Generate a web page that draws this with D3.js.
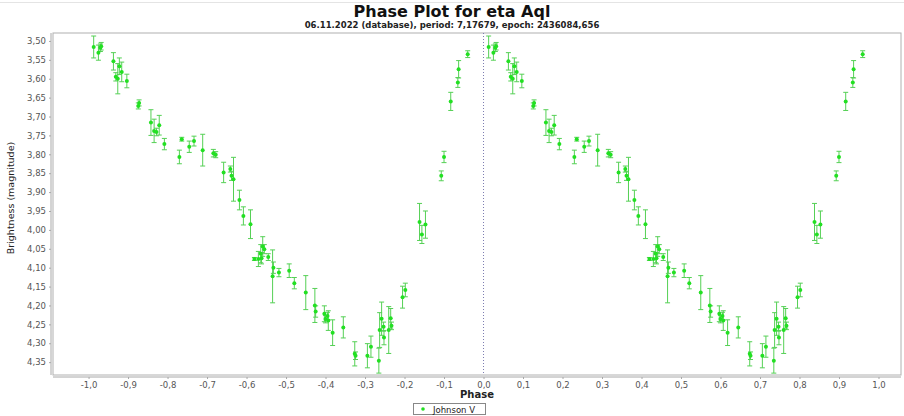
<!DOCTYPE html>
<html><head><meta charset="utf-8">
<script src="https://cdn.jsdelivr.net/npm/d3@7"></script>
<style>
html,body{margin:0;padding:0;background:#fff;}
svg{display:block;}
text{font-family:"DejaVu Sans",Verdana,sans-serif;}
</style></head>
<body>
<svg id="chart" width="904" height="416"></svg>
<script>
// ---- data (phase in [0,1), magnitude, error) ----
const phases = [0.013,0.025,0.030,0.032,0.063,0.078,0.069,0.074,0.084,0.097,
  0.126,0.128,0.158,0.166,0.172,0.179,0.192,0.236,0.230,0.255,
  0.267,0.289,0.316,0.322,0.342,0.359,0.367,0.362,0.382,0.392,
  0.410,0.420,0.430,0.436,0.441,0.445,0.438,0.455,0.468,0.466,
  0.482,0.508,0.521,0.550,0.573,0.575,0.597,0.600,0.607,0.605,
  0.618,0.645,0.674,0.676,0.706,0.715,0.735,0.737,0.742,0.747,
  0.748,0.760,0.765,0.767,0.795,0.802,0.838,0.844,0.853,0.893,
  0.900,0.917,0.935,0.937,0.960];
const mags = [3.516,3.531,3.518,3.514,3.554,3.567,3.595,3.600,3.582,3.606,
  3.672,3.664,3.716,3.738,3.741,3.723,3.773,3.760,3.807,3.780,
  3.765,3.789,3.797,3.801,3.848,3.839,3.866,3.857,3.921,3.963,
  3.985,4.077,4.077,4.063,4.044,4.051,4.075,4.072,4.100,4.123,
  4.113,4.108,4.141,4.166,4.200,4.216,4.222,4.236,4.240,4.228,
  4.272,4.258,4.328,4.333,4.333,4.309,4.346,4.265,4.235,4.256,
  4.285,4.265,4.234,4.254,4.178,4.159,3.979,4.012,3.986,3.857,
  3.807,3.660,3.610,3.575,3.535];
const errs = [0.029,0.020,0.010,0.010,0.023,0.022,0.011,0.040,0.026,0.018,
  0.008,0.008,0.034,0.031,0.010,0.026,0.015,0.005,0.018,0.015,
  0.013,0.042,0.010,0.008,0.027,0.008,0.058,0.012,0.026,0.024,
  0.038,0.004,0.020,0.024,0.026,0.012,0.015,0.009,0.015,0.070,
  0.011,0.018,0.015,0.045,0.045,0.015,0.021,0.010,0.026,0.010,
  0.034,0.028,0.032,0.010,0.032,0.028,0.033,0.046,0.044,0.012,
  0.019,0.062,0.026,0.010,0.029,0.018,0.049,0.024,0.036,0.013,
  0.015,0.024,0.013,0.023,0.009];
const xTicks = d3.range(-10, 11).map(d => d / 10);
const yTicks = d3.range(0, 18).map(d => +(3.5 + d * 0.05).toFixed(2));
const title = "Phase Plot for eta Aql";
const subtitle = "06.11.2022 (database), period: 7,17679, epoch: 2436084,656";
const seriesName = "Johnson V";

// ---- layout ----
const svg = d3.select("#chart");
const L = 53, R = 901, T = 33, B = 375;
const x = d3.scaleLinear().domain([-1.09, 1.057]).range([L, R]);
const y = d3.scaleLinear().domain([3.479, 4.384]).range([T, B]);
const fmt = (v, n) => v.toFixed(n).replace(".", ",");

svg.append("line").attr("x1",0).attr("x2",904).attr("y1",2.5).attr("y2",2.5)
  .attr("stroke","#e4e4e4");

svg.append("text").attr("x", 452).attr("y", 17).attr("text-anchor","middle")
  .attr("font-size", 16).attr("font-weight","bold").attr("fill","#111").text(title);
svg.append("text").attr("x", 452).attr("y", 28).attr("text-anchor","middle")
  .attr("font-size", 8.5).attr("font-weight","bold").attr("fill","#222").text(subtitle);

svg.append("rect").attr("x", L).attr("y", T).attr("width", R - L).attr("height", B - T)
  .attr("fill","#fff").attr("stroke","#b0b0b0").attr("stroke-width",1);

const xAxis = d3.axisBottom(x).tickValues(xTicks).tickSize(2).tickPadding(3)
  .tickFormat(d => fmt(d, 1));
const gx = svg.append("g").attr("transform", `translate(0,${B + 2})`).call(xAxis);
gx.select(".domain").attr("stroke","#a8a8a8").attr("d", `M${L},0H${R}`);
gx.selectAll(".tick line").attr("stroke","#a8a8a8");
gx.selectAll(".tick text").attr("font-size", 8.5).attr("fill","#555")
  .attr("font-family","DejaVu Sans, sans-serif");

const yAxis = d3.axisLeft(y).tickValues(yTicks).tickSize(2).tickPadding(3)
  .tickFormat(d => fmt(d, 2));
const gy = svg.append("g").attr("transform", `translate(${L - 2},0)`).call(yAxis);
gy.select(".domain").attr("stroke","#a8a8a8").attr("d", `M0,${T}V${B}`);
gy.selectAll(".tick line").attr("stroke","#a8a8a8");
gy.selectAll(".tick text").attr("font-size", 8.5).attr("fill","#555")
  .attr("font-family","DejaVu Sans, sans-serif");

svg.append("text").attr("x", (L + R) / 2).attr("y", 398).attr("text-anchor","middle")
  .attr("font-size", 10).attr("font-weight","bold").attr("fill","#222").text("Phase");
svg.append("text").attr("transform", `translate(14,198) rotate(-90)`).attr("text-anchor","middle")
  .attr("font-size", 9.5).attr("fill","#222").text("Brightness (magnitude)");

svg.append("line").attr("x1", x(0)).attr("x2", x(0)).attr("y1", T).attr("y2", B)
  .attr("stroke","#7b7bb0").attr("stroke-width",1).attr("stroke-dasharray","1,2");

const pts = [];
phases.forEach((p, i) => {
  pts.push({p: p - 1, m: mags[i], e: errs[i]});
  pts.push({p: p, m: mags[i], e: errs[i]});
});
const g = svg.append("g");
const eb = g.selectAll("g.eb").data(pts).enter().append("g")
  .attr("stroke","#55d055").attr("stroke-width",1);
eb.append("line").attr("x1", d => x(d.p)).attr("x2", d => x(d.p))
  .attr("y1", d => y(d.m - d.e)).attr("y2", d => y(d.m + d.e));
eb.append("line").attr("x1", d => x(d.p) - 2.5).attr("x2", d => x(d.p) + 2.5)
  .attr("y1", d => y(d.m - d.e)).attr("y2", d => y(d.m - d.e));
eb.append("line").attr("x1", d => x(d.p) - 2.5).attr("x2", d => x(d.p) + 2.5)
  .attr("y1", d => y(d.m + d.e)).attr("y2", d => y(d.m + d.e));
g.selectAll("circle").data(pts).enter().append("circle")
  .attr("cx", d => x(d.p)).attr("cy", d => y(d.m)).attr("r", 2)
  .attr("fill","#22e022");

const lg = svg.append("g");
lg.append("rect").attr("x", 413.5).attr("y", 403.5).attr("width", 72).attr("height", 11)
  .attr("fill","#fff").attr("stroke","#888");
lg.append("circle").attr("cx", 423).attr("cy", 409).attr("r", 1.8).attr("fill","#22e022");
lg.append("text").attr("x", 433).attr("y", 412.5).attr("font-size", 8.5).attr("fill","#222").text(seriesName);
</script>
</body></html>
